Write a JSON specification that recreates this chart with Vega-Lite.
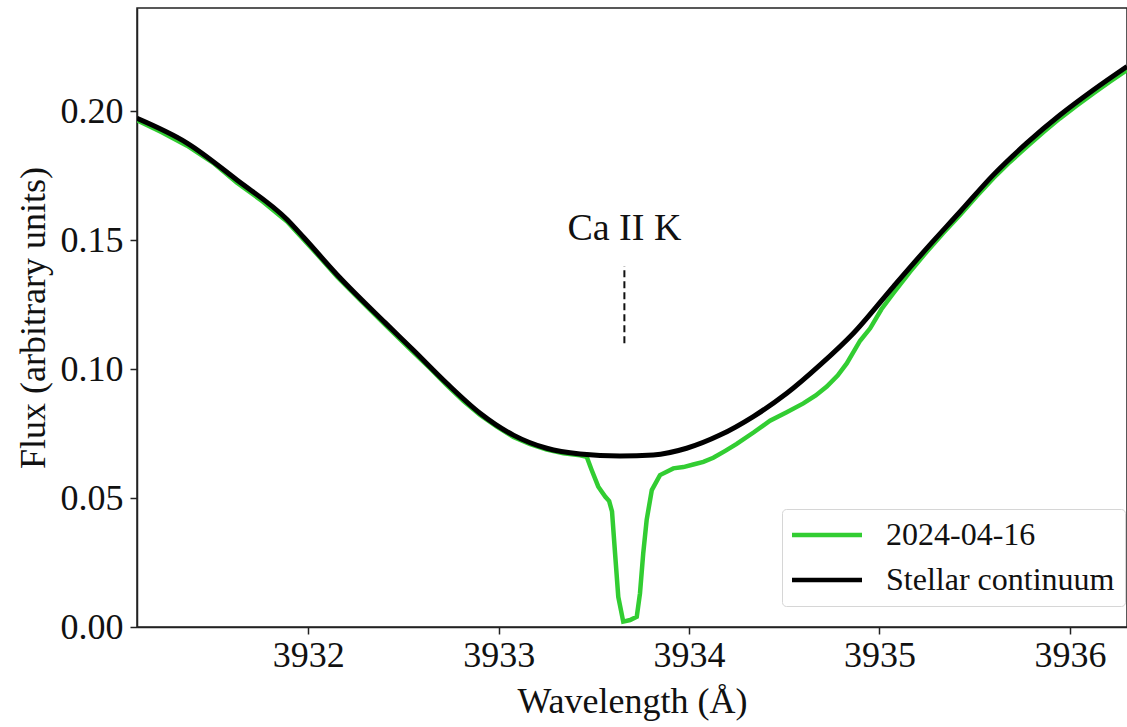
{
  "$schema": "https://vega.github.io/schema/vega-lite/v6.json",
  "width": 990,
  "height": 619,
  "autosize": {"type": "none"},
  "padding": {"left": 137, "top": 8, "right": 0, "bottom": 100},
  "background": "white",
  "config": {
    "view": {"stroke": "#222", "strokeWidth": 1.5},
    "font": "Liberation Serif",
    "axis": {
      "labelFont": "Liberation Serif",
      "titleFont": "Liberation Serif",
      "labelFontSize": 36,
      "titleFontSize": 36,
      "titleFontWeight": "normal",
      "labelColor": "#111",
      "titleColor": "#111",
      "domainColor": "#222",
      "domainWidth": 1.5,
      "tickColor": "#222",
      "tickWidth": 1.5,
      "tickSize": 7,
      "grid": false
    },
    "legend": {
      "labelFont": "Liberation Serif",
      "labelFontSize": 32,
      "labelColor": "#111",
      "labelLimit": 500
    }
  },
  "datasets": {
    "spec": [
      {"w": 3931.100, "flux": 0.1965, "series": "2024-04-16"},
      {"w": 3931.230, "flux": 0.1918, "series": "2024-04-16"},
      {"w": 3931.363, "flux": 0.1866, "series": "2024-04-16"},
      {"w": 3931.500, "flux": 0.1800, "series": "2024-04-16"},
      {"w": 3931.625, "flux": 0.1723, "series": "2024-04-16"},
      {"w": 3931.760, "flux": 0.1650, "series": "2024-04-16"},
      {"w": 3931.888, "flux": 0.1572, "series": "2024-04-16"},
      {"w": 3931.976, "flux": 0.1502, "series": "2024-04-16"},
      {"w": 3932.060, "flux": 0.1434, "series": "2024-04-16"},
      {"w": 3932.151, "flux": 0.1358, "series": "2024-04-16"},
      {"w": 3932.280, "flux": 0.1262, "series": "2024-04-16"},
      {"w": 3932.403, "flux": 0.1172, "series": "2024-04-16"},
      {"w": 3932.551, "flux": 0.1066, "series": "2024-04-16"},
      {"w": 3932.640, "flux": 0.1003, "series": "2024-04-16"},
      {"w": 3932.727, "flux": 0.0938, "series": "2024-04-16"},
      {"w": 3932.815, "flux": 0.0876, "series": "2024-04-16"},
      {"w": 3932.902, "flux": 0.0822, "series": "2024-04-16"},
      {"w": 3932.990, "flux": 0.0777, "series": "2024-04-16"},
      {"w": 3933.077, "flux": 0.0737, "series": "2024-04-16"},
      {"w": 3933.165, "flux": 0.0709, "series": "2024-04-16"},
      {"w": 3933.252, "flux": 0.0688, "series": "2024-04-16"},
      {"w": 3933.340, "flux": 0.0674, "series": "2024-04-16"},
      {"w": 3933.427, "flux": 0.0666, "series": "2024-04-16"},
      {"w": 3933.462, "flux": 0.0660, "series": "2024-04-16"},
      {"w": 3933.488, "flux": 0.0609, "series": "2024-04-16"},
      {"w": 3933.523, "flux": 0.0544, "series": "2024-04-16"},
      {"w": 3933.560, "flux": 0.0505, "series": "2024-04-16"},
      {"w": 3933.580, "flux": 0.0488, "series": "2024-04-16"},
      {"w": 3933.595, "flux": 0.0448, "series": "2024-04-16"},
      {"w": 3933.611, "flux": 0.0286, "series": "2024-04-16"},
      {"w": 3933.628, "flux": 0.0117, "series": "2024-04-16"},
      {"w": 3933.654, "flux": 0.0021, "series": "2024-04-16"},
      {"w": 3933.690, "flux": 0.0027, "series": "2024-04-16"},
      {"w": 3933.725, "flux": 0.0040, "series": "2024-04-16"},
      {"w": 3933.742, "flux": 0.0131, "series": "2024-04-16"},
      {"w": 3933.759, "flux": 0.0286, "series": "2024-04-16"},
      {"w": 3933.777, "flux": 0.0415, "series": "2024-04-16"},
      {"w": 3933.804, "flux": 0.0531, "series": "2024-04-16"},
      {"w": 3933.847, "flux": 0.0589, "series": "2024-04-16"},
      {"w": 3933.917, "flux": 0.0615, "series": "2024-04-16"},
      {"w": 3933.970, "flux": 0.0620, "series": "2024-04-16"},
      {"w": 3934.022, "flux": 0.0630, "series": "2024-04-16"},
      {"w": 3934.075, "flux": 0.0640, "series": "2024-04-16"},
      {"w": 3934.127, "flux": 0.0656, "series": "2024-04-16"},
      {"w": 3934.190, "flux": 0.0683, "series": "2024-04-16"},
      {"w": 3934.250, "flux": 0.0710, "series": "2024-04-16"},
      {"w": 3934.340, "flux": 0.0755, "series": "2024-04-16"},
      {"w": 3934.425, "flux": 0.0800, "series": "2024-04-16"},
      {"w": 3934.510, "flux": 0.0832, "series": "2024-04-16"},
      {"w": 3934.600, "flux": 0.0867, "series": "2024-04-16"},
      {"w": 3934.665, "flux": 0.0898, "series": "2024-04-16"},
      {"w": 3934.723, "flux": 0.0932, "series": "2024-04-16"},
      {"w": 3934.780, "flux": 0.0975, "series": "2024-04-16"},
      {"w": 3934.828, "flux": 0.1022, "series": "2024-04-16"},
      {"w": 3934.898, "flux": 0.1110, "series": "2024-04-16"},
      {"w": 3934.951, "flux": 0.1158, "series": "2024-04-16"},
      {"w": 3935.010, "flux": 0.1232, "series": "2024-04-16"},
      {"w": 3935.073, "flux": 0.1294, "series": "2024-04-16"},
      {"w": 3935.160, "flux": 0.1377, "series": "2024-04-16"},
      {"w": 3935.248, "flux": 0.1455, "series": "2024-04-16"},
      {"w": 3935.335, "flux": 0.1528, "series": "2024-04-16"},
      {"w": 3935.423, "flux": 0.1597, "series": "2024-04-16"},
      {"w": 3935.510, "flux": 0.1670, "series": "2024-04-16"},
      {"w": 3935.598, "flux": 0.1740, "series": "2024-04-16"},
      {"w": 3935.685, "flux": 0.1803, "series": "2024-04-16"},
      {"w": 3935.773, "flux": 0.1862, "series": "2024-04-16"},
      {"w": 3935.860, "flux": 0.1918, "series": "2024-04-16"},
      {"w": 3935.948, "flux": 0.1972, "series": "2024-04-16"},
      {"w": 3936.035, "flux": 0.2021, "series": "2024-04-16"},
      {"w": 3936.123, "flux": 0.2069, "series": "2024-04-16"},
      {"w": 3936.210, "flux": 0.2114, "series": "2024-04-16"},
      {"w": 3936.300, "flux": 0.2160, "series": "2024-04-16"},
      {"w": 3931.100, "flux": 0.1972, "series": "Stellar continuum"},
      {"w": 3931.363, "flux": 0.1876, "series": "Stellar continuum"},
      {"w": 3931.625, "flux": 0.1733, "series": "Stellar continuum"},
      {"w": 3931.888, "flux": 0.1580, "series": "Stellar continuum"},
      {"w": 3931.976, "flux": 0.1510, "series": "Stellar continuum"},
      {"w": 3932.151, "flux": 0.1366, "series": "Stellar continuum"},
      {"w": 3932.403, "flux": 0.1180, "series": "Stellar continuum"},
      {"w": 3932.551, "flux": 0.1074, "series": "Stellar continuum"},
      {"w": 3932.727, "flux": 0.0945, "series": "Stellar continuum"},
      {"w": 3932.902, "flux": 0.0829, "series": "Stellar continuum"},
      {"w": 3933.077, "flux": 0.0744, "series": "Stellar continuum"},
      {"w": 3933.252, "flux": 0.0693, "series": "Stellar continuum"},
      {"w": 3933.427, "flux": 0.0671, "series": "Stellar continuum"},
      {"w": 3933.637, "flux": 0.0663, "series": "Stellar continuum"},
      {"w": 3933.812, "flux": 0.0667, "series": "Stellar continuum"},
      {"w": 3933.987, "flux": 0.0693, "series": "Stellar continuum"},
      {"w": 3934.162, "flux": 0.0744, "series": "Stellar continuum"},
      {"w": 3934.337, "flux": 0.0816, "series": "Stellar continuum"},
      {"w": 3934.513, "flux": 0.0906, "series": "Stellar continuum"},
      {"w": 3934.688, "flux": 0.1016, "series": "Stellar continuum"},
      {"w": 3934.863, "flux": 0.1139, "series": "Stellar continuum"},
      {"w": 3935.073, "flux": 0.1320, "series": "Stellar continuum"},
      {"w": 3935.248, "flux": 0.1468, "series": "Stellar continuum"},
      {"w": 3935.423, "flux": 0.1610, "series": "Stellar continuum"},
      {"w": 3935.598, "flux": 0.1753, "series": "Stellar continuum"},
      {"w": 3935.773, "flux": 0.1876, "series": "Stellar continuum"},
      {"w": 3935.948, "flux": 0.1985, "series": "Stellar continuum"},
      {"w": 3936.123, "flux": 0.2082, "series": "Stellar continuum"},
      {"w": 3936.300, "flux": 0.2173, "series": "Stellar continuum"}
    ],
    "line_marker": [
      {"w": 3933.66, "y1": 0.11, "y2": 0.14, "label": "Ca II K", "ty": 0.15}
    ]
  },
  "layer": [
    {
      "data": {"name": "spec"},
      "transform": [{"filter": "datum.series === '2024-04-16'"}],
      "mark": {"type": "line", "strokeWidth": 4.5, "clip": true},
      "encoding": {
        "x": {
          "field": "w", "type": "quantitative",
          "scale": {"domain": [3931.1, 3936.3], "nice": false, "zero": false},
          "axis": {"values": [3932, 3933, 3934, 3935, 3936], "format": "d", "title": "Wavelength (Å)", "labelPadding": 4, "titlePadding": 11}
        },
        "y": {
          "field": "flux", "type": "quantitative",
          "scale": {"domain": [0, 0.24], "nice": false},
          "axis": {"values": [0, 0.05, 0.1, 0.15, 0.2], "format": ".2f", "title": "Flux (arbitrary units)", "labelPadding": 7, "titlePadding": 8}
        },
        "color": {
          "field": "series", "type": "nominal",
          "scale": {"domain": ["2024-04-16", "Stellar continuum"], "range": ["#32CD32", "#000000"]},
          "legend": {
            "title": null,
            "orient": "none",
            "legendX": 645,
            "legendY": 501,
            "symbolType": "M-1.6,0H5.4",
            "symbolSize": 400,
            "symbolStrokeWidth": 4.5,
            "labelOffset": 62,
            "padding": 10,
            "rowPadding": 13,
            "strokeColor": "#d6d6d6",
            "fillColor": "white",
            "cornerRadius": 4
          }
        }
      }
    },
    {
      "data": {"name": "spec"},
      "transform": [{"filter": "datum.series === 'Stellar continuum'"}],
      "mark": {"type": "line", "strokeWidth": 5, "interpolate": "monotone", "clip": true},
      "encoding": {
        "x": {"field": "w", "type": "quantitative"},
        "y": {"field": "flux", "type": "quantitative"},
        "color": {"field": "series", "type": "nominal"}
      }
    },
    {
      "data": {"name": "line_marker"},
      "mark": {"type": "rule", "color": "#111", "strokeWidth": 2, "strokeDash": [7, 4]},
      "encoding": {
        "x": {"field": "w", "type": "quantitative"},
        "y": {"field": "y1", "type": "quantitative"},
        "y2": {"field": "y2"}
      }
    },
    {
      "data": {"name": "line_marker"},
      "mark": {"type": "text", "font": "Liberation Serif", "fontSize": 38, "color": "#111", "baseline": "alphabetic", "align": "center"},
      "encoding": {
        "x": {"field": "w", "type": "quantitative"},
        "y": {"field": "ty", "type": "quantitative"},
        "text": {"field": "label"}
      }
    }
  ]
}
